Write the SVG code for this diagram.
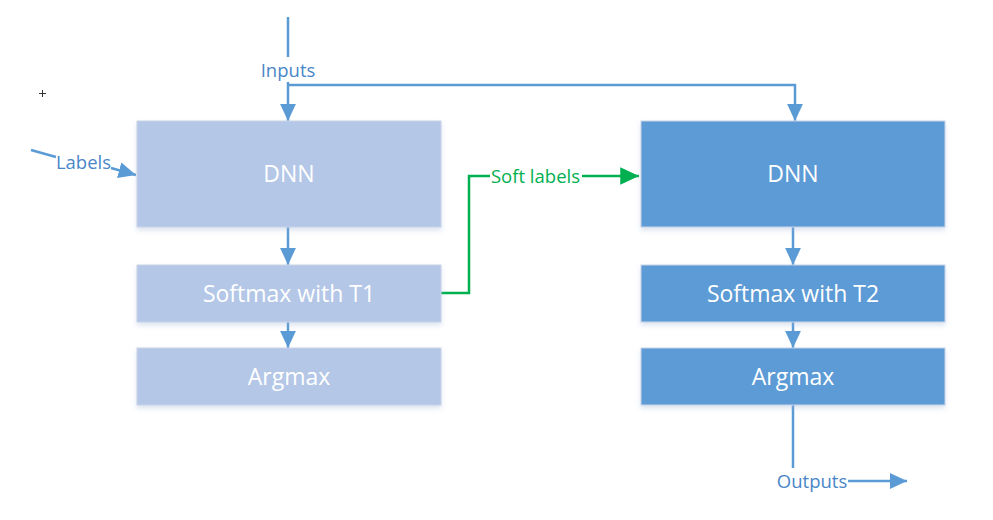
<svg xmlns="http://www.w3.org/2000/svg" width="993" height="520" viewBox="0 0 993 520">
<style>
.bl{fill:#B4C7E7}
.bd{fill:#5B9BD5}
.box{stroke:#C9D4E8;stroke-width:1}
.bt{font-family:"Open Sans",Lato,"Liberation Sans",sans-serif;font-size:23px;fill:#FFFFFF;text-anchor:middle;dominant-baseline:central}
.lt{font-family:"Open Sans",Lato,"Liberation Sans",sans-serif;font-size:18.5px;fill:#4A86C8;text-anchor:middle;dominant-baseline:central}
.ln{stroke:#5B9BD5;stroke-width:2.5;fill:none}
.gn{stroke:#00B050;stroke-width:2.5;fill:none}
</style>
<defs>
<marker id="ab" viewBox="0 0 10 10" refX="10" refY="5" markerWidth="7" markerHeight="6.5" orient="auto" markerUnits="strokeWidth" preserveAspectRatio="none"><path d="M0,0 L10,5 L0,10 z" fill="#5B9BD5"/></marker>
<marker id="ag" viewBox="0 0 10 10" refX="10" refY="5" markerWidth="7.5" markerHeight="7" orient="auto" markerUnits="strokeWidth" preserveAspectRatio="none"><path d="M0,0 L10,5 L0,10 z" fill="#00B050"/></marker>
<filter id="sh" x="-5%" y="-10%" width="110%" height="130%"><feDropShadow dx="0" dy="3" stdDeviation="2.5" flood-color="#9DB3D6" flood-opacity="0.35"/></filter>
</defs>
<rect width="993" height="520" fill="#FFFFFF"/>
<g id="cursor" stroke="#333" stroke-width="1"><line x1="39" y1="93.5" x2="46" y2="93.5"/><line x1="42.5" y1="90" x2="42.5" y2="97"/></g>
<g id="connectors">
<line class="ln" x1="288" y1="17" x2="288" y2="57"/>
<line class="ln" x1="288" y1="82" x2="288" y2="121" marker-end="url(#ab)"/>
<polyline class="ln" points="288,85 795,85 795,121" marker-end="url(#ab)"/>
<line class="ln" x1="31" y1="150" x2="56" y2="157"/>
<line class="ln" x1="111" y1="168" x2="136" y2="175" marker-end="url(#ab)"/>
<line class="ln" x1="288" y1="227" x2="288" y2="265" marker-end="url(#ab)"/>
<line class="ln" x1="288" y1="322" x2="288" y2="348" marker-end="url(#ab)"/>
<line class="ln" x1="793" y1="227" x2="793" y2="265" marker-end="url(#ab)"/>
<line class="ln" x1="793" y1="322" x2="793" y2="348" marker-end="url(#ab)"/>
<line class="ln" x1="793" y1="405" x2="793" y2="468"/>
<line class="ln" x1="848" y1="481" x2="907" y2="481" marker-end="url(#ab)"/>
<polyline class="gn" points="441,293 469,293 469,176 490,176"/>
<line class="gn" x1="582" y1="176" x2="639" y2="176" marker-end="url(#ag)"/>
<text class="lt" x="288" y="69">Inputs</text>
<text class="lt" x="83.5" y="161">Labels</text>
<text class="lt" x="535.5" y="175" style="fill:#00B050">Soft labels</text>
<text class="lt" x="812" y="480">Outputs</text>
</g>
<g id="teacher-dnn"><rect class="bl box" x="137" y="121" width="304" height="106" filter="url(#sh)"/><text class="bt" x="289" y="173">DNN</text></g>
<g id="teacher-softmax"><rect class="bl box" x="137" y="265" width="304" height="57" filter="url(#sh)"/><text class="bt" x="289" y="293">Softmax with T1</text></g>
<g id="teacher-argmax"><rect class="bl box" x="137" y="348" width="304" height="57" filter="url(#sh)"/><text class="bt" x="289" y="376">Argmax</text></g>
<g id="student-dnn"><rect class="bd box" x="641" y="121" width="304" height="106" filter="url(#sh)"/><text class="bt" x="793" y="173">DNN</text></g>
<g id="student-softmax"><rect class="bd box" x="641" y="265" width="304" height="57" filter="url(#sh)"/><text class="bt" x="793" y="293">Softmax with T2</text></g>
<g id="student-argmax"><rect class="bd box" x="641" y="348" width="304" height="57" filter="url(#sh)"/><text class="bt" x="793" y="376">Argmax</text></g>
</svg>
